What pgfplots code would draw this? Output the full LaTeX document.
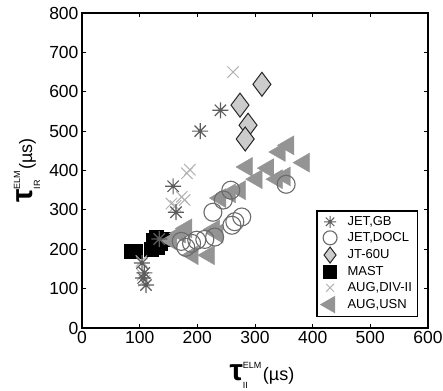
\documentclass[border=0pt]{standalone}
\usepackage{fontspec}
\setmainfont{Liberation Sans}
\usepackage{pgfplots}
\pgfplotsset{compat=1.18}
\definecolor{gbcol}{gray}{0.36}
\definecolor{doclcol}{gray}{0.42}
\definecolor{jtfill}{gray}{0.80}
\definecolor{divcol}{gray}{0.70}
\definecolor{usncol}{gray}{0.58}
\pgfdeclareplotmark{mstar}{%
 \pgfpathmoveto{\pgfqpoint{0pt}{\pgfplotmarksize}}\pgfpathlineto{\pgfqpoint{0pt}{-\pgfplotmarksize}}%
 \pgfpathmoveto{\pgfqpoint{\pgfplotmarksize}{0pt}}\pgfpathlineto{\pgfqpoint{-\pgfplotmarksize}{0pt}}%
 \pgfpathmoveto{\pgfqpoint{.707\pgfplotmarksize}{.707\pgfplotmarksize}}\pgfpathlineto{\pgfqpoint{-.707\pgfplotmarksize}{-.707\pgfplotmarksize}}%
 \pgfpathmoveto{\pgfqpoint{.707\pgfplotmarksize}{-.707\pgfplotmarksize}}\pgfpathlineto{\pgfqpoint{-.707\pgfplotmarksize}{.707\pgfplotmarksize}}%
 \pgfusepathqstroke}
\pgfplotsset{
 gbst/.style={only marks, mark=mstar, color=gbcol, mark size=8pt, line width=1.2pt},
 doclst/.style={only marks, mark=o, color=doclcol, mark size=9pt, line width=1.1pt},
 jtst/.style={only marks, mark=diamond*, draw=black!85, fill=jtfill, mark size=12pt, line width=1pt},
 mastst/.style={only marks, mark=square*, color=black, mark size=7pt},
 divst/.style={only marks, mark=x, color=divcol, mark size=8pt, line width=1pt},
 usnst/.style={only marks, mark=triangle*, mark options={rotate=90}, color=usncol, mark size=11pt},
}
\newcommand{\taulab}[1]{{\fontsize{30}{30}\selectfont\bfseries τ}\rlap{\raisebox{12pt}{\fontsize{9}{9}\selectfont ELM}}\makebox[20pt][l]{\raisebox{-8pt}{\fontsize{9}{9}\selectfont #1}}{\fontsize{18}{18}\selectfont (µs)}}
\newcommand{\legtxt}[1]{\hspace{9pt}#1}
\begin{document}
\begin{tikzpicture}
\useasboundingbox (-82pt,-62pt) rectangle (361pt,328pt);
\begin{axis}[
 at={(0,0)}, anchor=south west,
 scale only axis, width=346pt, height=315pt,
 xmin=0, xmax=600, ymin=0, ymax=800,
 xtick={0,100,...,600}, ytick={0,100,...,800},
 tick align=inside, major tick length=4pt,
 axis line style={line width=1.2pt}, tick style={line width=0.8pt, black},
 ticklabel style={font=\fontsize{17.5}{17.5}\selectfont},
 /pgf/number format/assume math mode=true,
 xlabel={\taulab{II}}, ylabel={\taulab{IR}},
 every axis x label/.style={at={(axis description cs:0.52,-0.15)}, anchor=center},
 every axis y label/.style={at={(axis description cs:-0.159,0.5)}, rotate=90, anchor=center},
 legend style={font=\fontsize{13}{14}\selectfont, draw=black, line width=1.2pt,
   at={(rel axis cs:0.971,0.035)}, anchor=south east, row sep=2.2pt, inner sep=4pt,
   nodes={inner sep=1.5pt}},
 legend cell align=left,
]
\addlegendimage{gbst, mark size=6pt, line width=1pt}
\addlegendentry{\legtxt{JET,GB}}
\addlegendimage{doclst, mark size=7pt}
\addlegendentry{\legtxt{JET,DOCL}}
\addlegendimage{jtst, mark size=8pt}
\addlegendentry{\legtxt{JT-60U}}
\addlegendimage{mastst, mark size=6pt}
\addlegendentry{\legtxt{MAST}}
\addlegendimage{divst, mark size=5.5pt}
\addlegendentry{\legtxt{AUG,DIV-II}}
\addlegendimage{usnst, mark size=9pt}
\addlegendentry{\legtxt{AUG,USN}}

\addplot[mastst, forget plot] coordinates {
(85,195) (92,195) (120,200) (123,222) (130,205) (135,215) (148,225) (128,230)
};
\addplot[usnst, forget plot] coordinates {
(155,222) (170,240) (181,253) (192,185) (220,185) (229,250) (235,240) (240,330) (257,342)
(286,409) (274,350) (303,378) (323,406) (338,378) (343,447) (352,385) (358,464) (385,420)
};
\addplot[doclst, forget plot] coordinates {
(172,220) (180,205) (190,215) (199,223) (213,225) (230,231) (227,294) (245,325) (258,350)
(260,261) (265,270) (277,282) (354,365)
};
\addplot[divst, forget plot] coordinates {
(262,650) (182,393) (187,402) (178,325) (173,333) (162,310) (155,316) (103,170) (105,135) (108,120)
};
\addplot[gbst, forget plot] coordinates {
(104,165) (106,127) (111,109) (108,140) (134,226) (158,360) (163,294) (205,500) (240,553)
};
\addplot[jtst, forget plot] coordinates {
(312,619) (274,566) (288,515) (283,480)
};
\end{axis}
\end{tikzpicture}
\end{document}
